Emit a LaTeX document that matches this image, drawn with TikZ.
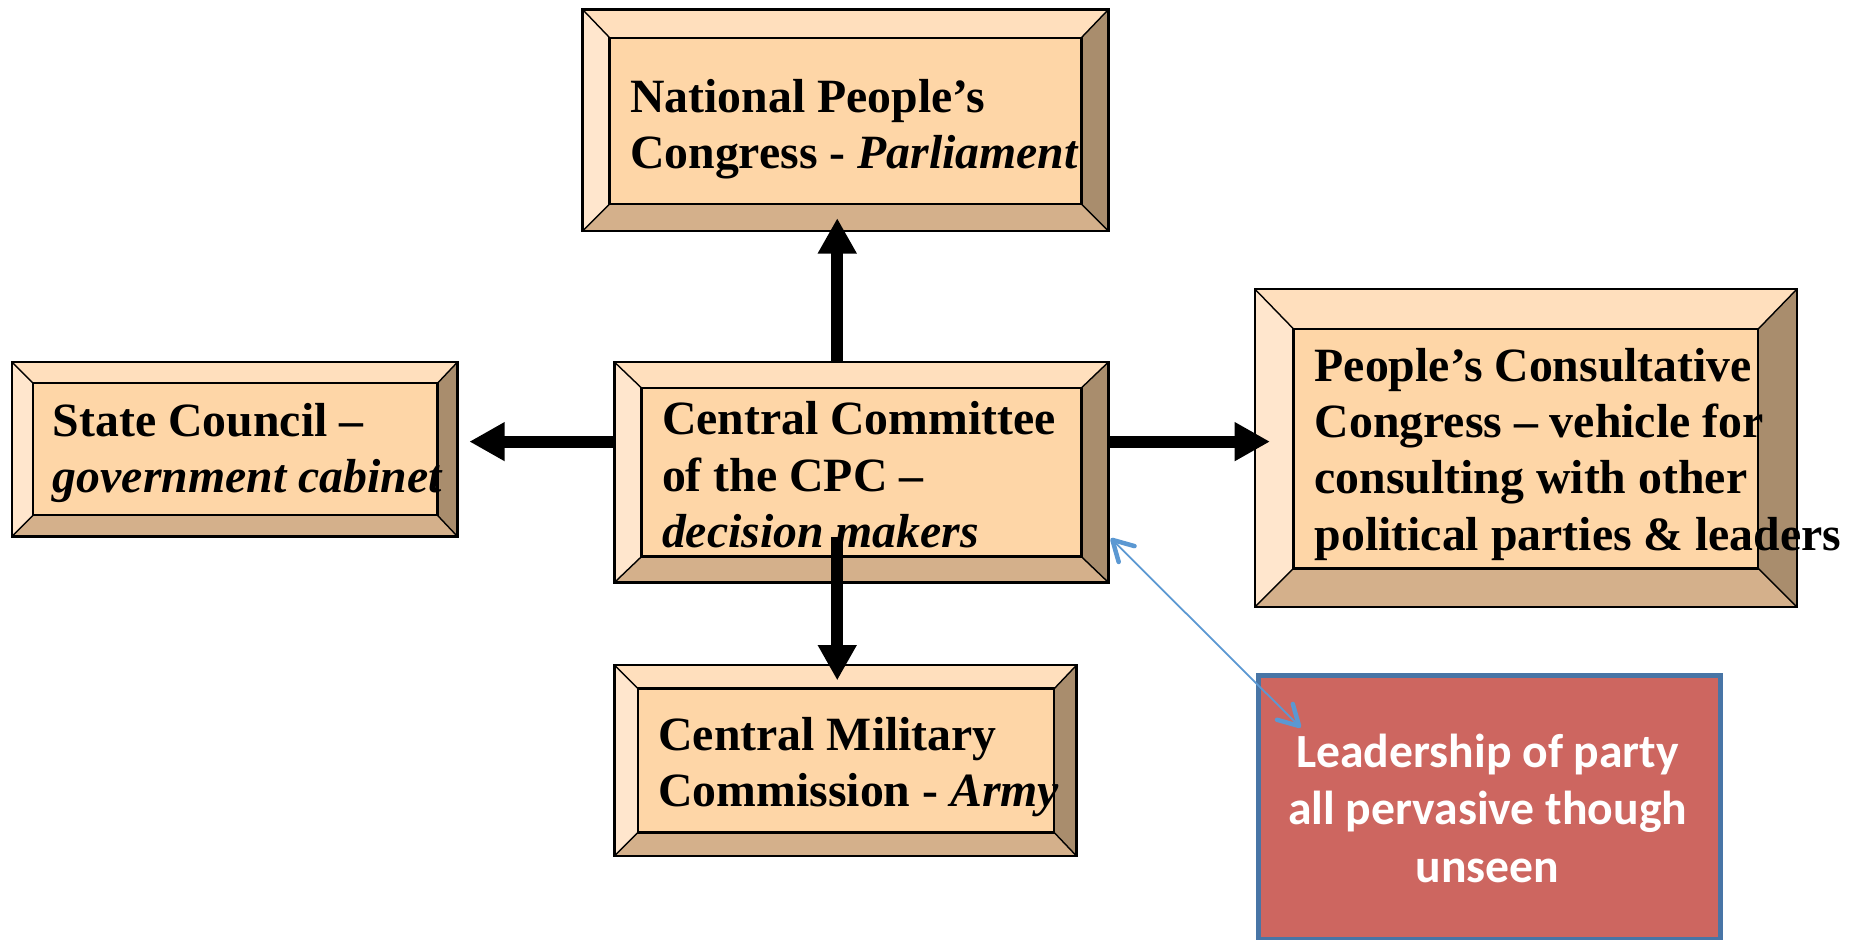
\documentclass[tikz,border=0pt]{standalone}
\usepackage{fontspec}
\setmainfont{Liberation Serif}
\newfontfamily\calib{Carlito}
\usetikzlibrary{arrows.meta,fit}
\definecolor{bvface}{RGB}{254,214,167}
\definecolor{bvtopc}{RGB}{255,223,189}
\definecolor{bvleftc}{RGB}{255,230,205}
\definecolor{bvbotc}{RGB}{212,176,139}
\definecolor{bvrightc}{RGB}{169,141,109}
\definecolor{redfill}{RGB}{205,102,96}
\definecolor{bordblue}{RGB}{72,117,166}
\definecolor{linkblue}{RGB}{91,152,210}
\tikzset{
  bvoutline/.style={draw=black, line width=1pt},
  bvdiag/.style={draw=black, line width=0.6pt},
  boxtext/.style={anchor=base west, inner sep=0pt, align=left,
    font=\bfseries\fontsize{20.25}{23.8}\selectfont},
  redtext/.style={anchor=base, inner sep=0pt, align=center, text=white,
    font=\calib\bfseries\fontsize{20.2}{24.25}\selectfont},
  leadbox/.style={draw=bordblue, line width=2pt, fill=redfill, inner sep=0pt,
    anchor=north west},
  blk/.style={draw=black, line width=5pt, -{Triangle[length=15pt,width=15.5pt]}},
  bluelink/.style={draw=linkblue, line width=0.75pt,
    {Straight Barb[length=8.5pt,width=9.5pt,line width=1.9pt,round]}-{Straight Barb[length=8.5pt,width=9.5pt,line width=1.9pt,round]}}
}
% name, outer x1 y1 x2 y2, inner x1 y1 x2 y2
\newcommand\bevbox[9]{%
  \fill[bvtopc] (#2,#3) -- (#4,#3) -- (#8,#7) -- (#6,#7) -- cycle;
  \fill[bvleftc] (#2,#3) -- (#6,#7) -- (#6,#9) -- (#2,#5) -- cycle;
  \fill[bvbotc] (#2,#5) -- (#6,#9) -- (#8,#9) -- (#4,#5) -- cycle;
  \fill[bvrightc] (#4,#3) -- (#4,#5) -- (#8,#9) -- (#8,#7) -- cycle;
  \fill[bvface] (#6,#7) rectangle (#8,#9);
  \draw[bvdiag] (#2,#3) -- (#6,#7) (#4,#3) -- (#8,#7) (#2,#5) -- (#6,#9) (#4,#5) -- (#8,#9);
  \draw[bvoutline] (#2,#3) rectangle (#4,#5);
  \draw[bvoutline] (#6,#7) rectangle (#8,#9);
  \path (#2,#3) coordinate (#1-nw) (#4,#5) coordinate (#1-se);
  \node[fit=(#1-nw)(#1-se), inner sep=0pt, outer sep=0pt] (#1) {};
}
\begin{document}
\begin{tikzpicture}[x=0.5pt, y=-0.5pt]
\fill[white] (0,0) rectangle (1568,797);
\useasboundingbox (0,0) rectangle (1568,797);

% boxes
\bevbox{npc}{494}{8}{940}{196}{517}{32}{917}{173}
\bevbox{cc}{521}{307}{940}{494}{544}{329}{917}{472}
\bevbox{sc}{10}{307}{388}{455}{28}{325}{371}{437}
\bevbox{pcc}{1064}{245}{1524}{515}{1097}{279}{1491}{482}
\bevbox{cmc}{521}{564}{913}{726}{541}{584}{894}{706}

% texts (anchored at the baseline of the last line)
\node[boxtext] (npctxt) at (534,142.6) {National People’s\\Congress - \textit{Parliament}};
\node[boxtext] (cctxt) at (561,464) {Central Committee\\of the CPC –\\\textit{decision makers}};
\node[boxtext] (sctxt) at (44.5,418) {State Council –\\\textit{government cabinet}};
\node[boxtext] (pcctxt) at (1114.5,466.5) {People’s Consultative\\Congress – vehicle for\\consulting with other\\political parties \& leaders};
\node[boxtext] (cmctxt) at (558,684.2) {Central Military\\Commission - \textit{Army}};

% red box
\node[leadbox, minimum width=196pt, minimum height=112pt] (lead) at (1065,571) {};
\node[redtext] (leadtxt) at (1261.5,748) {Leadership of party\\all pervasive though\\unseen};

% thick arrows
\coordinate (ax) at (710,0);
\coordinate (hy) at (0,374.5);
\draw[blk, shorten >=-5.5pt] (cc.north -| ax) -- (npc.south -| ax);
\draw[blk, shorten <=-19.5pt, shorten >=-6.5pt] (cc.south -| ax) -- (cmc.north -| ax);
\draw[blk, shorten >=5pt] (cc.west |- hy) -- (sc.east |- hy);
\draw[blk, shorten >=-6.5pt] (cc.east |- hy) -- (pcc.west |- hy);

% thin blue link
\coordinate (lnkA) at (942,456.5);
\coordinate (lnkB) at (1103,617);
\draw[bluelink] (lnkA) -- (lnkB);
\end{tikzpicture}
\end{document}
